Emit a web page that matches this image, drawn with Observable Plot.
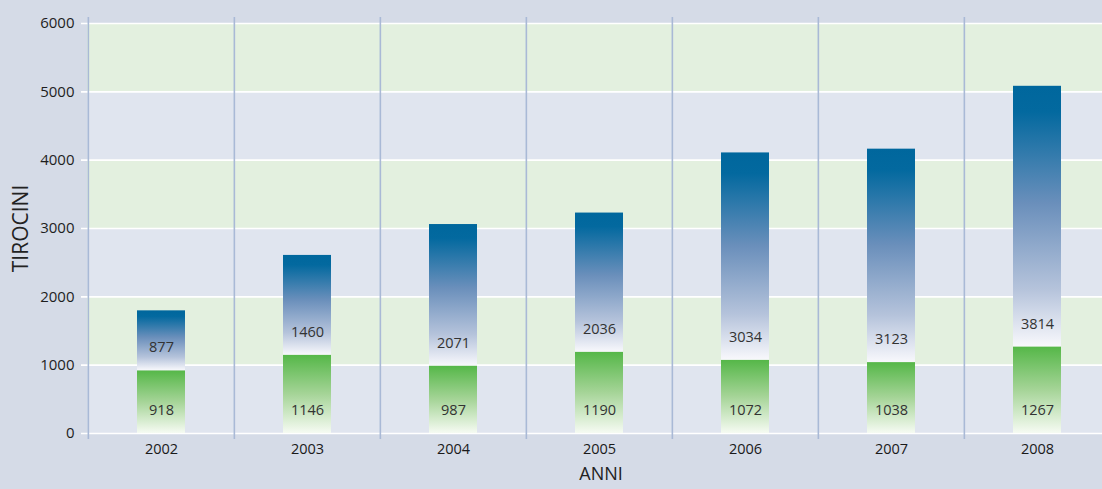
<!DOCTYPE html>
<html>
<head>
<meta charset="utf-8">
<script src="https://cdn.jsdelivr.net/npm/d3@7"></script>
<script src="https://cdn.jsdelivr.net/npm/@observablehq/plot@0.6"></script>
<style>
  html, body { margin: 0; padding: 0; background: #d5dbe7; overflow: hidden; }
  #chart svg { display: block; }
</style>
</head>
<body>
<div id="chart"></div>
<script>
// Data
const years = ["2002", "2003", "2004", "2005", "2006", "2007", "2008"];
const lower = [918, 1146, 987, 1190, 1072, 1038, 1267];     // green segment
const upper = [877, 1460, 2071, 2036, 3034, 3123, 3814];    // blue segment
const yTicks = [0, 1000, 2000, 3000, 4000, 5000, 6000];
const greenBands = [[1000, 2000], [3000, 4000], [5000, 6000]];

const rows = years.map((y, i) => ({year: y, lo: lower[i], hi: upper[i], total: lower[i] + upper[i]}));

const W = 1102, H = 489;
const left = 87, rangeEnd = 1111;
const bw = (rangeEnd - left) / years.length;

const svg = Plot.plot({
  width: W,
  height: H,
  marginLeft: left,
  marginRight: 0,
  marginTop: 23,
  marginBottom: 56,
  style: {background: "transparent", fontFamily: "'Open Sans', sans-serif", fontSize: "15px", color: "#222", overflow: "visible"},
  x: {type: "band", domain: years, range: [left, rangeEnd], padding: 0, axis: null},
  y: {domain: [0, 6000], axis: null},
  marks: [
    Plot.frame({fill: "#e0e5ef", stroke: null}),
    Plot.rect(greenBands, {y1: d => d[0], y2: d => d[1], fill: "#e3f0df"}),
    Plot.ruleY(yTicks, {stroke: "white", strokeWidth: 1.6, insetLeft: -6}),
    Plot.ruleX(years, {x: d => d, dx: -bw / 2, stroke: "#a9b9d6", strokeWidth: 1.6, insetTop: -6, insetBottom: -6}),
    Plot.barY(rows, {x: "year", y1: 0, y2: "lo", fill: "url(#gGreen)", insetLeft: 49, insetRight: 49}),
    Plot.barY(rows, {x: "year", y1: "lo", y2: "total", fill: "url(#gBlue)", insetLeft: 49, insetRight: 49}),
    Plot.text(rows, {x: "year", y: 0, text: d => String(d.lo), dy: -23, fill: "#333", fontSize: 14.5}),
    Plot.text(rows, {x: "year", y: "lo", text: d => String(d.hi), dy: -23, fill: "#333", fontSize: 14.5}),
    Plot.axisY(yTicks, {tickSize: 0, tickPadding: 13, tickFormat: d => String(d), fontSize: 15, fill: "#1e1e1e", label: null}),
    Plot.axisX({tickSize: 0, tickPadding: 10, fontSize: 14.5, fontWeight: 500, fill: "#1a1a1a", label: null}),
    Plot.text(["ANNI"], {frameAnchor: "bottom", dx: 6, dy: 46.7, fontSize: 18, fill: "#222"}),
    Plot.text(["TIROCINI"], {frameAnchor: "left", textAnchor: "middle", dx: -66, rotate: -90, fontSize: 21, fill: "#222"})
  ]
});

// Gradients
const NS = "http://www.w3.org/2000/svg";
const defs = document.createElementNS(NS, "defs");
function grad(id, stops) {
  const g = document.createElementNS(NS, "linearGradient");
  g.setAttribute("id", id);
  g.setAttribute("x1", "0"); g.setAttribute("y1", "0");
  g.setAttribute("x2", "0"); g.setAttribute("y2", "1");
  for (const [o, c] of stops) {
    const s = document.createElementNS(NS, "stop");
    s.setAttribute("offset", o);
    s.setAttribute("stop-color", c);
    g.appendChild(s);
  }
  defs.appendChild(g);
}
grad("gBlue", [[0, "#00679d"], [0.1, "#03699f"], [0.45, "#6a8fbb"], [0.78, "#b5c3db"], [1, "#f8f8fc"]]);
grad("gGreen", [[0, "#55b748"], [0.5, "#a5d497"], [1, "#f6fbf3"]]);
svg.insertBefore(defs, svg.firstChild);

document.getElementById("chart").appendChild(svg);
</script>
</body>
</html>
